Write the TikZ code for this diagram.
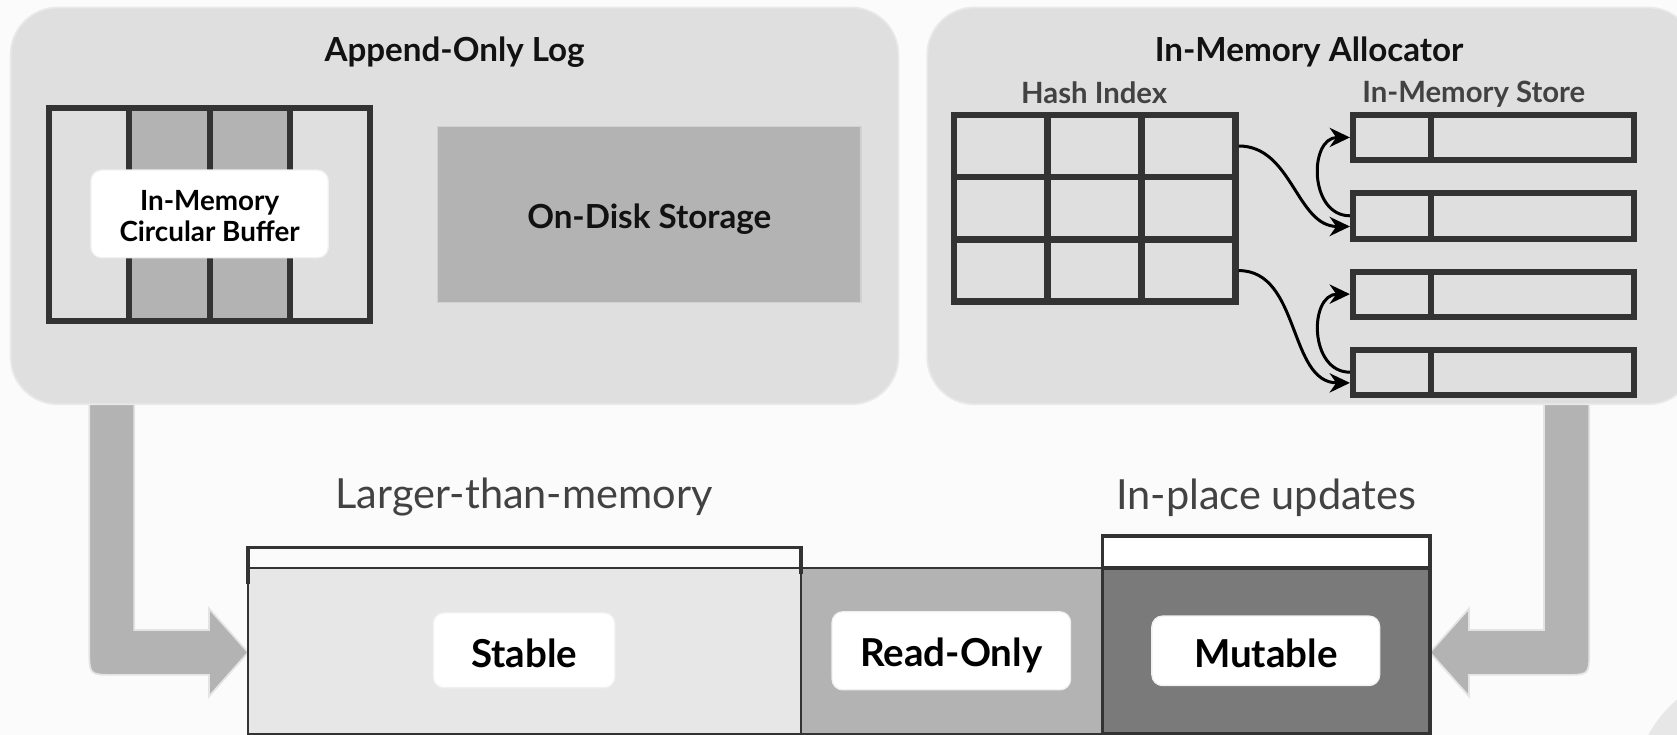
\documentclass[tikz,border=0pt]{standalone}
\usepackage{fontspec}
\setmainfont{Lato}
\usetikzlibrary{fit,arrows.meta,calc}
\definecolor{bg}{HTML}{FBFBFB}
\definecolor{panel}{HTML}{DFDFDF}
\definecolor{panelline}{HTML}{E9E9E9}
\definecolor{dark}{HTML}{333333}
\definecolor{midgray}{HTML}{B3B3B3}
\definecolor{stablefill}{HTML}{E7E7E7}
\definecolor{mutfill}{HTML}{7A7A7A}
\definecolor{txtgray}{HTML}{424242}
\definecolor{arrowline}{HTML}{E4E4E4}
\begin{document}
\begin{tikzpicture}[x=0.5pt,y=-0.5pt,
  panelbox/.style={draw=panelline, line width=0.8pt, fill=panel, rounded corners=22pt, inner sep=0pt},
  bufcell/.style={draw=dark, line width=2.8pt, inner sep=0pt},
  hashcell/.style={draw=dark, line width=3.2pt, inner sep=0pt, fill=panel},
  recbox/.style={draw=dark, line width=2.8pt, inner sep=0pt},
  ptr/.style={line width=1.4pt, -{Stealth[length=9.5pt,width=9pt]}},
  bigarrow/.style={fill=midgray, draw=arrowline, line width=0.8pt},
  tagbox/.style={fill=white, draw=black!6, line width=0.6pt, rounded corners=5pt, inner sep=0pt, align=center},
  ttl/.style={font=\fontsize{15.5}{18}\selectfont\bfseries, text=black!93},
  sublbl/.style={font=\fontsize{13.7}{16}\selectfont\bfseries, text=txtgray},
  headlbl/.style={font=\fontsize{19.4}{22}\selectfont, text=txtgray},
  seglbl/.style={font=\fontsize{18}{20}\selectfont\bfseries, text=black},
]
\fill[bg] (0,0) rectangle (1568,687);
\useasboundingbox (0,0) rectangle (1568,687);
% faint disk in the corner
\fill[stablefill] (1640,740) circle[radius=112];

% big arrows
\filldraw[bigarrow] (125.5,370) -- (83.5,370) -- (83.5,608) .. controls (83.5,631) .. (106.5,631)
  -- (195.5,631) -- (195.5,651) -- (232,610) -- (195.5,569) -- (195.5,589) -- (125.5,589) -- cycle;
\filldraw[bigarrow] (1443.7,370) -- (1486,370) -- (1486,608) .. controls (1486,631) .. (1463,631)
  -- (1373.5,631) -- (1373.5,651) -- (1337,610) -- (1373.5,569) -- (1373.5,589) -- (1443.7,589) -- cycle;

% panels
\node[panelbox, fit={(10,7)(840,378)}] (logpanel) {};
\node[panelbox, fit={(867,7)(1585,378)}] (allocpanel) {};
\node[ttl] (logtitle) at (425,49) {Append-Only Log};
\node[ttl] (alloctitle) at (1224,49) {In-Memory Allocator};

% circular buffer
\node[bufcell, fill=panel,   fit={(45.8,101.3)(121,300)}] (bc1) {};
\node[bufcell, fill=midgray, fit={(121,101.3)(196.4,300)}] (bc2) {};
\node[bufcell, fill=midgray, fit={(196.4,101.3)(271,300)}] (bc3) {};
\node[bufcell, fill=panel,   fit={(271,101.3)(346,300)}] (bc4) {};
\node[tagbox, fit={(85,159)(307,241)}] (buftag) {};
\node[font=\fontsize{13}{14.5}\selectfont\bfseries, align=center] (buflbl) at ($(buftag.center)+(0,2)$) {In-Memory\\Circular Buffer};

% on-disk storage
\node[fill=midgray, draw=black!18, line width=0.6pt, inner sep=0pt, fit={(409,118)(805,283)}] (disk) {};
\node[ttl] (disklbl) at ($(disk.center)+(0,4)$) {On-Disk Storage};

% hash index
\node[sublbl] (hashlbl) at (1023,87) {Hash Index};
\node[sublbl] (storelbl) at (1378,88) {In-Memory Store};
\foreach \r/\ya/\yb in {1/107.5/165.5, 2/165.5/224, 3/224/282}{
  \foreach \c/\xa/\xb in {1/892/979.7, 2/979.7/1067.3, 3/1067.3/1155}{
    \node[hashcell, fit={(\xa,\ya)(\xb,\yb)}] (h\r\c) {};
  }
}
\node[draw=dark, line width=3.2pt, inner sep=0pt, fit={(892,107.5)(1155,282)}] (hash) {};

% in-memory store records
\foreach \i/\ya/\yb in {1/107.5/149.5, 2/180.5/223, 3/254/296, 4/327/369}{
  \node[recbox, fit={(1265,\ya)(1528,\yb)}] (rec\i) {};
  \node[recbox, fit={(1265,\ya)(1338,\yb)}] (key\i) {};
}

% pointers
\draw[ptr] (hash.east |- h13.center) to[out=0,in=180] ($(rec2.west)+(0,10)$);
\draw[ptr] (rec2.west) to[out=180,in=180,looseness=1.35] (rec1.west);
\draw[ptr] (hash.east |- h33.center) to[out=0,in=180] ($(rec4.west)+(0,10)$);
\draw[ptr] (rec4.west) to[out=180,in=180,looseness=1.35] (rec3.west);

% headings
\node[headlbl] (largerlbl) at (490,465) {Larger-than-memory};
\node[headlbl] (inplacelbl) at (1184,465) {In-place updates};

% bottom bar
\node[fill=stablefill, draw=dark, line width=0.8pt, inner sep=0pt, fit={(232,531)(749,686)}] (stable) {};
\node[fill=midgray, draw=dark, line width=0.8pt, inner sep=0pt, fit={(749,531)(1031,686)}] (readonly) {};
\node[fill=mutfill, draw=dark, line width=1.6pt, inner sep=0pt, fit={(1031,531)(1337,686)}] (mutable) {};
\node[fill=white, draw=dark, line width=1.6pt, inner sep=0pt, fit={(1031,501)(1337,531)}] (mutbracket) {};
\draw[dark, line width=1.6pt] (232,546) -- (232,512) -- (749,512) -- (749,537);

% segment labels
\node[tagbox, minimum width=85pt, minimum height=35pt] (stabletag) at (490,608) {};
\node[seglbl] (stablelbl) at (490,611) {Stable};
\node[tagbox, minimum width=111.5pt, minimum height=36.5pt] (readtag) at (889.5,608.5) {};
\node[seglbl] (readlbl) at (889.5,613) {Read-Only};
\node[tagbox, minimum width=106.5pt, minimum height=32.5pt] (muttag) at (1183.5,608.5) {};
\node[seglbl] (mutlbl) at (1183.5,611) {Mutable};
\end{tikzpicture}
\end{document}
